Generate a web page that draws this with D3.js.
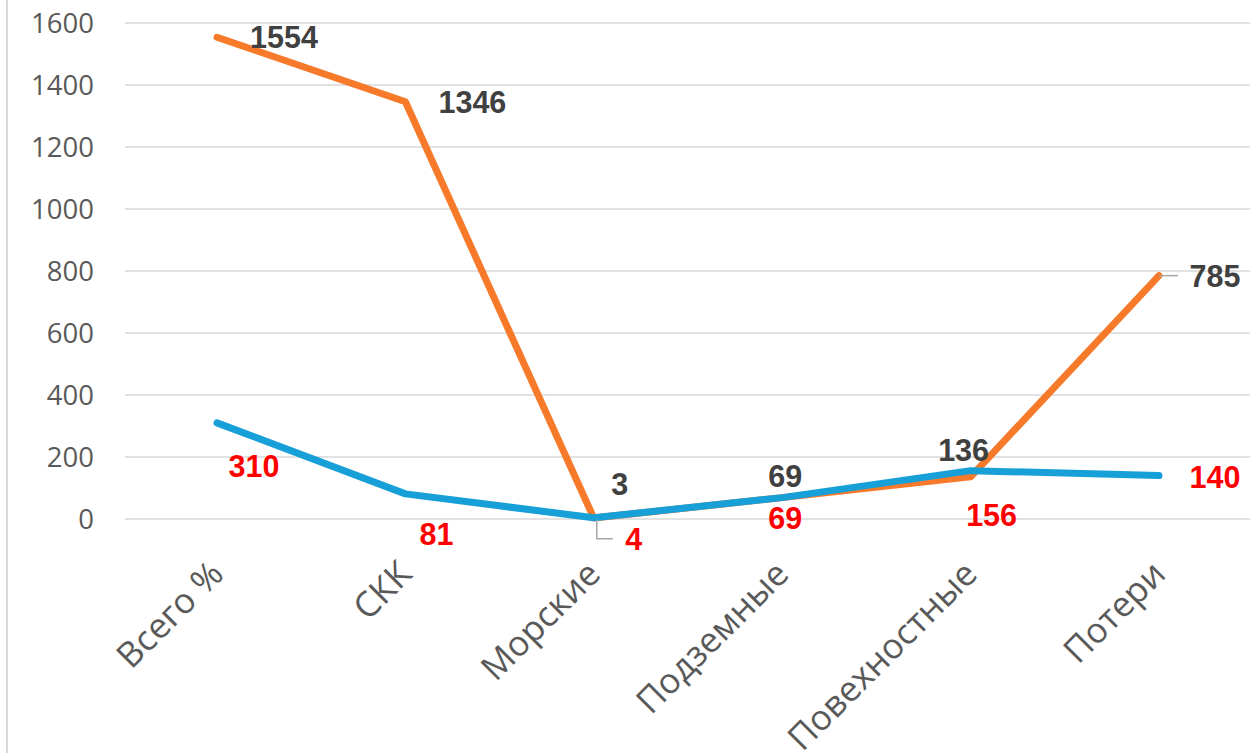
<!DOCTYPE html>
<html>
<head>
<meta charset="utf-8">
<script src="https://cdn.jsdelivr.net/npm/d3@7"></script>
<style>
  html, body { margin: 0; padding: 0; background: #fff; }
  svg { display: block; }
</style>
</head>
<body>
<svg id="chart" width="1250" height="753"></svg>
<script>
// Categories along the x axis
const categories = ["Всего %", "СКК", "Морские", "Подземные", "Повехностные", "Потери"];
// Two series
const orangeValues = [1554, 1346, 3, 69, 136, 785];
const blueValues = [310, 81, 4, 69, 156, 140];
// Y axis ticks
const yTicks = [0, 200, 400, 600, 800, 1000, 1200, 1400, 1600];

// Label placement: offset of each value label's centre from its point (px)
const orangeLabelOffsets = [[67, 0], [67, 0], [26, -34], [3, -22], [-7, -27], [56, 0]];
const blueLabelOffsets = [[37, 43], [31, 40], [40, 21], [3, 20], [21, 44], [56, 1]];

const svg = d3.select("#chart");
const W = 1250, H = 753;
const plotTop = 23, plotBottom = 519;

const x = d3.scalePoint().domain(categories).range([217, 1159]);
const y = d3.scaleLinear().domain([0, 1600]).range([plotBottom, plotTop]);

// left frame edge
svg.append("line")
  .attr("x1", 7).attr("x2", 7).attr("y1", 0).attr("y2", H)
  .attr("stroke", "#d9d9d9").attr("stroke-width", 2);

// horizontal gridlines
svg.append("g").selectAll("line").data(yTicks).join("line")
  .attr("x1", 125).attr("x2", W)
  .attr("y1", d => y(d)).attr("y2", d => y(d))
  .attr("stroke", "#d9d9d9").attr("stroke-width", 1.5);

// y axis labels
const yAxis = d3.axisLeft(y).tickValues(yTicks).tickFormat(d3.format("d")).tickSize(0).tickPadding(0);
const yg = svg.append("g").attr("transform", "translate(94,0)").call(yAxis);
yg.select(".domain").remove();
yg.selectAll("text")
  .attr("font-family", "'Open Sans', 'Noto Sans', sans-serif")
  .attr("font-size", 27.5)
  .attr("fill", "#595959")
  .attr("dy", "0.36em");

// x axis category labels, rotated
const xAxis = d3.axisBottom(x).tickSize(0).tickPadding(0);
const xg = svg.append("g").attr("transform", `translate(0,${plotBottom})`).call(xAxis);
xg.select(".domain").remove();
xg.selectAll("text")
  .attr("font-family", "'Open Sans', 'Noto Sans', sans-serif")
  .attr("font-size", 35)
  .attr("fill", "#595959")
  .attr("text-anchor", "end")
  .attr("dy", null)
  .attr("y", 0)
  .attr("transform", "translate(8,57) rotate(-45)");

const line = d3.line()
  .x((d, i) => x(categories[i]))
  .y(d => y(d));

function drawSeries(values, color) {
  svg.append("path")
    .datum(values)
    .attr("d", line)
    .attr("fill", "none")
    .attr("stroke", color)
    .attr("stroke-width", 7)
    .attr("stroke-linejoin", "round")
    .attr("stroke-linecap", "round");
}

drawSeries(orangeValues, "#F77A2B");
drawSeries(blueValues, "#179FD8");

// leader lines for labels pulled away from their points
const leader = svg.append("g").attr("fill", "none").attr("stroke", "#a6a6a6").attr("stroke-width", 1.5);
{
  const px = x(categories[2]), py = y(blueValues[2]);
  leader.append("path").attr("d", `M${px + 3},${py + 2} L${px + 3},${py + 21} L${px + 19},${py + 21}`);
}
{
  const px = x(categories[5]), py = y(orangeValues[5]);
  leader.append("path").attr("d", `M${px},${py} L${px + 19},${py}`);
}

function drawLabels(values, offsets, color) {
  svg.append("g").selectAll("text").data(values).join("text")
    .attr("x", (d, i) => x(categories[i]) + offsets[i][0])
    .attr("y", (d, i) => y(d) + offsets[i][1] + 11)
    .attr("text-anchor", "middle")
    .attr("font-family", "'Liberation Sans', Arial, sans-serif")
    .attr("font-weight", "bold")
    .attr("font-size", 30.5)
    .attr("fill", color)
    .text(d => d);
}

drawLabels(orangeValues, orangeLabelOffsets, "#404040");
drawLabels(blueValues, blueLabelOffsets, "#FF0000");
</script>
</body>
</html>
